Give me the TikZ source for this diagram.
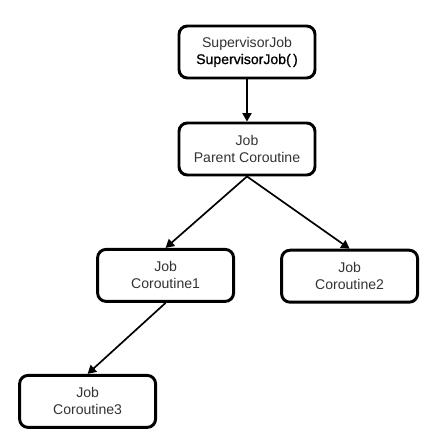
\documentclass[tikz,border=0pt]{standalone}
\usepackage{fontspec}
\setmainfont{Liberation Sans}
\newfontfamily\medfont[FakeBold=1.0]{Liberation Sans}
\usepackage{tikz}
\usepackage{xcolor}
\usetikzlibrary{positioning, arrows.meta}
\definecolor{jobtext}{HTML}{333333}
\tikzset{
  jobbox/.style={
    draw, line width=2.1pt, rounded corners=6pt,
    minimum width=3.4cm, minimum height=1.3cm,
    font=\fontsize{10}{12}\selectfont, align=center,
    text=jobtext, fill=white
  },
  jobarrow/.style={draw, line width=1.2pt, -{Triangle[length=6pt, width=6.5pt]}},
}

\begin{document}
\begin{tikzpicture}
  \useasboundingbox (0,0) rectangle (10.725,11.025);

  \node[jobbox] (sup)    at (6.175,9.725)  {SupervisorJob\\{\medfont\color{black}SupervisorJob(\,)}};
  \node[jobbox] (parent) at (6.175,7.3)    {Job\\Parent Coroutine};
  \node[jobbox] (co1)    at (4.14,4.14)    {Job\\Coroutine1};
  \node[jobbox] (co2)    at (8.74,4.12)    {Job\\Coroutine2};
  \node[jobbox] (co3)    at (2.19,0.99)    {Job\\Coroutine3};

  \draw[jobarrow] (sup.south) -- (parent.north);
  \draw[jobarrow] (parent.south) -- (co1.north);
  \draw[jobarrow] (parent.south) -- (co2.north);
  \draw[jobarrow] (co1.south) -- (co3.north);
\end{tikzpicture}
\end{document}
